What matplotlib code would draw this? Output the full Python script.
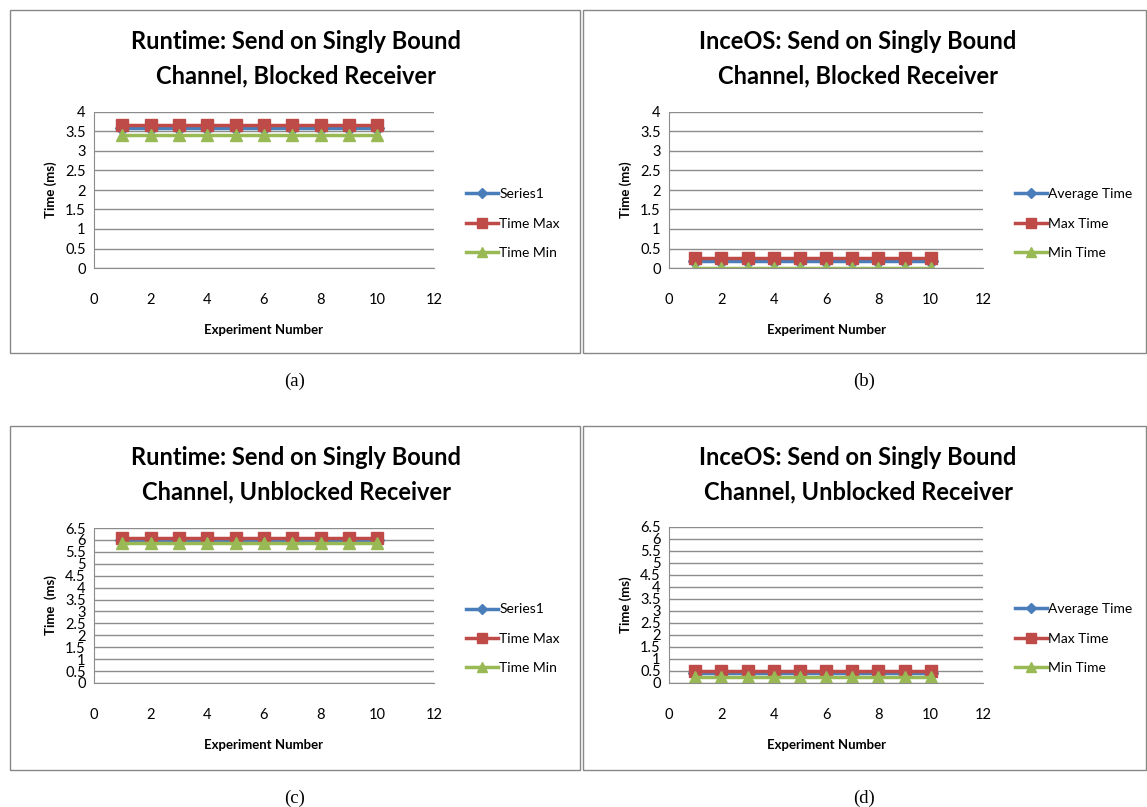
import numpy as np
import matplotlib
matplotlib.use('Agg')
import matplotlib.pyplot as plt
from matplotlib.patches import Rectangle

W, H = 1147, 807

experiments = np.arange(1, 11)

# runtime, blocked receiver
rt_blk_avg = [3.58] * 10
rt_blk_max = [3.66] * 10
rt_blk_min = [3.42] * 10
# inceos, blocked receiver
os_blk_avg = [0.18] * 10
os_blk_max = [0.25] * 10
os_blk_min = [0.01] * 10
# runtime, unblocked receiver
rt_unb_avg = [6.0] * 10
rt_unb_max = [6.1] * 10
rt_unb_min = [5.88] * 10
# inceos, unblocked receiver
os_unb_avg = [0.42] * 10
os_unb_max = [0.5] * 10
os_unb_min = [0.25] * 10

runtime_labels = ['Series1', 'Time Max', 'Time Min']
inceos_labels = ['Average Time', 'Max Time', 'Min Time']

titles = ['Runtime: Send on Singly Bound\nChannel, Blocked Receiver',
          'InceOS: Send on Singly Bound\nChannel, Blocked Receiver',
          'Runtime: Send on Singly Bound\nChannel, Unblocked Receiver',
          'InceOS: Send on Singly Bound\nChannel, Unblocked Receiver']
captions = ['(a)', '(b)', '(c)', '(d)']
ylabels = ['Time (ms)', 'Time (ms)', 'Time  (ms)', 'Time (ms)']

pcolors = ['#4A7EBB', '#BE4B48', '#98B954']
markers = ['D', 's', '^']

fig = plt.figure(figsize=(W / 100.0, H / 100.0), dpi=100)
font = 'Lato'


def fx(x):
    return x / float(W)


def fy(y):
    return 1 - y / float(H)


def panel(px, py, pw, ph, axbox, title, caption, ylab, ymax, series, labels):
    # gray frame round each chart
    fig.patches.append(Rectangle((fx(px), fy(py + ph)), pw / float(W), ph / float(H),
                                 transform=fig.transFigure, fill=False,
                                 edgecolor='#888888', lw=1))
    l, t, r, b = axbox
    ax = fig.add_axes([fx(l), fy(b), (r - l) / float(W), (b - t) / float(H)])
    for vals, c, m, lab in zip(series, pcolors, markers, labels):
        ms = 7 if m == 'D' else 9
        ax.plot(experiments, vals, '-', color=c, lw=2.5, marker=m, ms=ms,
                markeredgecolor=c, label=lab)
    ax.set_xlim(0, 12)
    ax.set_ylim(0, ymax)
    ax.set_xticks(np.arange(0, 13, 2))
    ax.set_yticks(np.arange(0, ymax + 0.01, 0.5))
    ax.set_yticklabels(['%g' % v for v in np.arange(0, ymax + 0.01, 0.5)])
    ax.grid(axis='y', color='#8c8c8c', lw=1)
    ax.set_axisbelow(True)
    for s in ['top', 'right']:
        ax.spines[s].set_visible(False)
    for s in ['left', 'bottom']:
        ax.spines[s].set_color('#8c8c8c')
    ax.tick_params(length=0, labelsize=10.5, pad=6)
    ax.tick_params(axis='x', pad=18)
    for lbl in ax.get_xticklabels() + ax.get_yticklabels():
        lbl.set_family(font)
    ax.set_xlabel('Experiment Number', fontsize=9.5, fontweight='bold', family=font, labelpad=12)
    ax.set_ylabel(ylab, fontsize=9.5, fontweight='bold', family=font, labelpad=6)
    fig.text(fx((l + r) / 2.0 + 32), fy(py + 49), title, ha='center', va='center',
             fontsize=17, fontweight='bold', family=font, linespacing=1.6)
    fig.text(fx(px + pw / 2.0), fy(py + ph + 28), caption, ha='center', va='center',
             fontsize=13.5, family='Liberation Serif')
    ax.legend(loc='center left', bbox_to_anchor=(1.0, 0.285), frameon=False,
              prop={'family': font, 'size': 10}, handlelength=2.3,
              labelspacing=1.25, handletextpad=0.1, borderaxespad=1.9,
              markerscale=0.8)
    return ax


panel(10, 10, 570, 343, (94, 112, 434, 268), titles[0], captions[0], ylabels[0], 4,
      [rt_blk_avg, rt_blk_max, rt_blk_min], runtime_labels)
panel(583, 10, 563, 343, (669, 112, 983, 268), titles[1], captions[1], ylabels[1], 4,
      [os_blk_avg, os_blk_max, os_blk_min], inceos_labels)
panel(10, 426, 570, 344, (94, 528, 434, 683), titles[2], captions[2], ylabels[2], 6.5,
      [rt_unb_avg, rt_unb_max, rt_unb_min], runtime_labels)
panel(583, 426, 563, 344, (669, 527, 983, 683), titles[3], captions[3], ylabels[3], 6.5,
      [os_unb_avg, os_unb_max, os_unb_min], inceos_labels)

plt.savefig('out.png', dpi=100)
